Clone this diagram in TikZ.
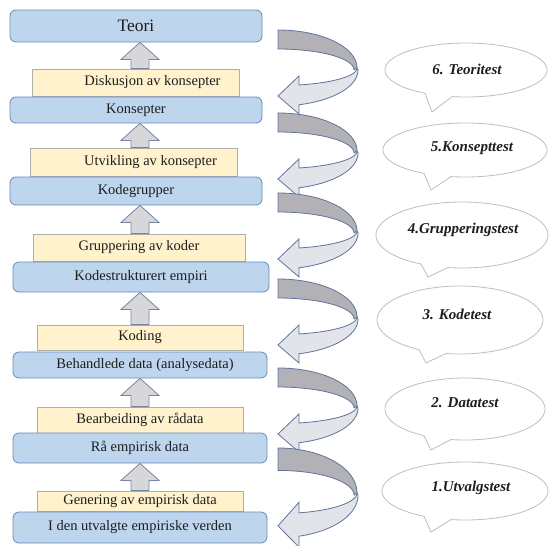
\documentclass[tikz,border=0pt]{standalone}
\usepackage{fontspec}
\setmainfont{Liberation Serif}
\newfontfamily\timesface{Liberation Serif}
\usetikzlibrary{calc}

\definecolor{boxblue}{RGB}{190,213,238}
\definecolor{boxblueline}{RGB}{105,138,190}
\definecolor{boxyellow}{RGB}{255,242,204}
\definecolor{boxyellowline}{RGB}{175,175,170}
\definecolor{arrowgray}{RGB}{215,215,217}
\definecolor{arrowline}{RGB}{118,134,165}
\definecolor{helixdark}{RGB}{178,178,182}
\definecolor{helixlight}{RGB}{226,228,233}
\definecolor{helixline}{RGB}{95,115,155}
\definecolor{bubbleline}{RGB}{190,190,190}
\definecolor{ink}{RGB}{30,30,30}

\tikzset{
  boxfont/.style={font=\timesface\fontsize{14.5}{16}\selectfont},
  level/.style={draw=boxblueline, fill=boxblue, rounded corners=6pt, line width=0.8pt,
    inner sep=0pt, text=ink, boxfont},
  process/.style={draw=boxyellowline, fill=boxyellow, line width=0.8pt,
    inner sep=0pt, text=ink, boxfont},
  caption/.style={inner sep=0pt, text=ink, boxfont},
  lift/.style={draw=arrowline, fill=arrowgray, line width=0.8pt, line join=miter},
  backface/.style={draw=helixline, fill=helixdark, line width=0.8pt, line join=round},
  frontface/.style={draw=helixline, fill=helixlight, line width=0.8pt, line join=miter},
  bubble/.style={draw=bubbleline, fill=white, line width=0.8pt},
  testlabel/.style={inner sep=0pt, text=ink,
    font=\timesface\fontsize{15}{17}\selectfont\bfseries\itshape},
  % ribbon that turns right and comes back as an arrow pointing left
  helix/.pic={
    \path[backface]
      plot[domain=90:0, samples=40] ({79*cos(\x)},{38-38*sin(\x)})
      -- plot[domain=0:90, samples=40] ({76*cos(\x)},{40-21*sin(\x)}) -- cycle;
    \path[frontface] (79,38)
      -- plot[domain=0:74.58, samples=40] ({79*cos(\x)},{38+17.6*sin(\x)})
      -- (21,46) -- (0,66) -- (21,84) -- (21,75)
      -- plot[domain=74.78:0, samples=40] ({80*cos(\x)},{40+36*sin(\x)}) -- cycle;
  }
}

% block arrow pointing up from the top of #1 to the bottom of #2
\newcommand\liftarrow[2]{%
  \path[lift] let \p1=(#1.north -| axis), \p2=(#2.south -| axis) in
    (\x1-9pt,\y1) -- (\x1-9pt,\y2-17pt) -- (\x1-19pt,\y2-17pt) -- (\x1,\y2)
    -- (\x1+19pt,\y2-17pt) -- (\x1+9pt,\y2-17pt) -- (\x1+9pt,\y1) -- cycle;}

% speech bubble: name, cx, cy, rx, ry, tail tip y, label position, label
\newcommand\testbubble[8]{%
  \pgfmathsetmacro\tailA{acos(-41/#4)}%
  \pgfmathsetmacro\tailB{acos(-14/#4)+360}%
  \path[bubble] plot[domain=\tailA:\tailB, samples=120] ({#2+#4*cos(\x)},{#3+#5*sin(\x)})
    -- (#2-34,#6) -- cycle;
  \node[testlabel] (#1) at #7 {#8};}

\begin{document}
\begin{tikzpicture}[x=1pt, y=-1pt]
\useasboundingbox (0,0) rectangle (549,546);
\fill[white] (0,0) rectangle (549,546);
\coordinate (axis) at (140,0);

% levels and processing steps
\node[level, minimum width=252pt, minimum height=32pt, font=\timesface\fontsize{17.5}{20}\selectfont]
  (teori) at (136,26) {Teori};
\node[process, minimum width=207pt, minimum height=27pt] (diskusjon) at (135.5,82.5) {};
\node[caption] (diskusjon-text) at ([xshift=17pt]diskusjon.center) {Diskusjon av konsepter};
\node[level, minimum width=252pt, minimum height=26pt] (konsepter) at (136,110) {Konsepter};

\node[process, minimum width=207pt, minimum height=28pt] (utvikling) at (133.5,162) {};
\node[caption] (utvikling-text) at ([xshift=17pt]utvikling.center) {Utvikling av konsepter};
\node[level, minimum width=252pt, minimum height=28pt] (kodegrupper) at (136,191) {Kodegrupper};

\node[process, minimum width=212pt, minimum height=27pt] (gruppering) at (139,247.5) {Gruppering av koder};
\node[level, minimum width=256pt, minimum height=30pt] (kodestrukturert) at (141,277) {Kodestrukturert empiri};

\node[process, minimum width=206pt, minimum height=25pt] (koding) at (140,337.5) {Koding};
\node[level, minimum width=254pt, minimum height=26pt] (behandlede) at (140,365) {};
\node[caption] (behandlede-text) at ([xshift=5pt]behandlede.center) {Behandlede data (analysedata)};

\node[process, minimum width=206pt, minimum height=26pt] (bearbeiding) at (140,420) {Bearbeiding av rådata};
\node[level, minimum width=254pt, minimum height=30pt] (raa) at (140,448) {Rå empirisk data};

\node[process, minimum width=206pt, minimum height=20pt] (genering) at (140,501) {Genering av empirisk data};
\node[level, minimum width=254pt, minimum height=31pt] (verden) at (140,527.5) {I den utvalgte empiriske verden};

% upward steps
\liftarrow{diskusjon}{teori}
\liftarrow{utvikling}{konsepter}
\liftarrow{gruppering}{kodegrupper}
\liftarrow{koding}{kodestrukturert}
\liftarrow{bearbeiding}{behandlede}
\liftarrow{genering}{raa}

% feedback ribbons
\pic (h6) at (278,30) {helix};
\pic (h5) at (278,113) {helix};
\pic (h4) at (278,193) {helix};
\pic (h3) at (278,279) {helix};
\pic (h2) at (278,368) {helix};
\pic[yscale=1.18] (h1) at (278,448) {helix};

% tests
\testbubble{t6}{466}{70}{81}{27}{112}{(467,69)}{6. Teoritest}
\testbubble{t5}{465}{150}{82}{27}{190}{(472,148)}{5.Konsepttest}
\testbubble{t4}{462}{235}{86}{33}{277}{(463,230)}{4.Grupperingstest}
\testbubble{t3}{460}{320}{83}{34}{363}{(457,314)}{3. Kodetest}
\testbubble{t2}{465}{409}{80}{31}{450}{(465,403)}{2. Datatest}
\testbubble{t1}{465}{491}{83}{29}{532}{(471,488)}{1.Utvalgstest}
\end{tikzpicture}
\end{document}
